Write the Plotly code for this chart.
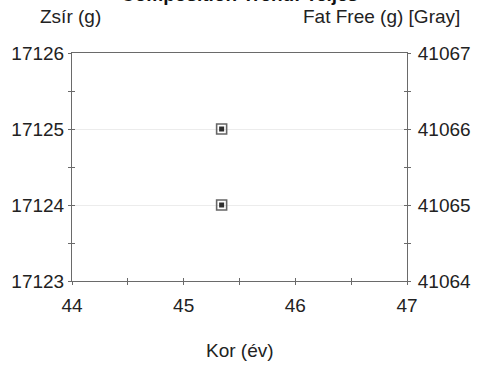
import plotly.graph_objects as go

# Data
age_years = [45.34, 45.34]
fat_g = [17125, 17124]
fat_free_g = [41066, 41065]

x_ticks = [44, 45, 46, 47]
left_ticks = [17123, 17124, 17125, 17126]
right_ticks = [41064, 41065, 41066, 41067]

FONT = "Liberation Sans, Arial, sans-serif"
AX = "#6a6a6a"
FS = 19

fig = go.Figure()
fig.add_trace(go.Scatter(x=age_years, y=fat_free_g, mode="markers", yaxis="y2",
                         marker=dict(symbol="square-open", size=10, color="#666666",
                                     line=dict(width=1.6, color="#666666")),
                         showlegend=False, hoverinfo="skip"))
fig.add_trace(go.Scatter(x=age_years, y=fat_g, mode="markers",
                         marker=dict(symbol="square", size=5, color="#2e2e2e"),
                         showlegend=False))
# helper traces for inside tick overlays
fig.add_trace(go.Scatter(x=[], y=[], xaxis="x2", yaxis="y3", showlegend=False))
fig.add_trace(go.Scatter(x=[], y=[], xaxis="x2", yaxis="y4", showlegend=False))

common_tick = dict(tickfont=dict(family=FONT, size=FS, color="#222"),
                   linecolor=AX, linewidth=1, tickcolor=AX, ticklen=3, tickwidth=1,
                   zeroline=False, automargin=False)

fig.update_layout(
    width=478, height=365,
    margin=dict(l=72, r=71, t=53, b=84),
    paper_bgcolor="white", plot_bgcolor="white",
    font=dict(family=FONT, size=FS, color="#222"),
    xaxis=dict(range=[44, 47], tickvals=x_ticks, ticks="outside", showline=True,
               mirror=True, showgrid=False,
               minor=dict(dtick=0.5, ticks="outside", ticklen=3, tickcolor=AX),
               ticklabelstandoff=4, **common_tick),
    xaxis2=dict(range=[44, 47], overlaying="x", side="bottom", ticks="inside",
                tickvals=[44, 44.5, 45, 45.5, 46, 46.5, 47], showticklabels=False,
                showline=False, showgrid=False, ticklen=3, tickcolor=AX, zeroline=False,
                automargin=False),
    yaxis=dict(range=[17123, 17126], tickvals=left_ticks, ticks="outside", showline=True,
               showgrid=True, gridcolor="#ececec", gridwidth=1,
               minor=dict(dtick=0.5, ticks="outside", ticklen=3, tickcolor=AX, showgrid=False),
               tickformat="d", **common_tick),
    yaxis2=dict(range=[41064, 41067], tickvals=right_ticks, ticks="outside", overlaying="y",
                side="right", showline=True, showgrid=False,
                minor=dict(dtick=0.5, ticks="outside", ticklen=3, tickcolor=AX),
                tickformat="d", ticklabelstandoff=3, **common_tick),
    yaxis3=dict(range=[17123, 17126], overlaying="y", side="left", ticks="inside",
                tickvals=[17123, 17123.5, 17124, 17124.5, 17125, 17125.5, 17126],
                showticklabels=False, showline=False, showgrid=False, ticklen=3,
                tickcolor=AX, zeroline=False, automargin=False),
    yaxis4=dict(range=[41064, 41067], overlaying="y", side="right", ticks="inside",
                tickvals=[41064, 41064.5, 41065, 41065.5, 41066, 41066.5, 41067],
                showticklabels=False, showline=False, showgrid=False, ticklen=3,
                tickcolor=AX, zeroline=False, automargin=False),
    annotations=[
        dict(text="<b>Composition Trend: Teljes</b>", xref="paper", yref="paper",
             x=0.5, y=1.2, xanchor="center", yanchor="bottom", showarrow=False,
             font=dict(family=FONT, size=19, color="#111")),
        dict(text="Zsír (g)", xref="paper", yref="paper", x=-0.003, y=1.16,
             xanchor="center", yanchor="middle", showarrow=False,
             font=dict(family=FONT, size=FS, color="#222")),
        dict(text="Fat Free (g) [Gray]", xref="paper", yref="paper", x=1.165, y=1.16,
             xanchor="right", yanchor="middle", showarrow=False,
             font=dict(family=FONT, size=FS, color="#222")),
        dict(text="Kor (év)", xref="paper", yref="paper", x=0.5, y=-0.305,
             xanchor="center", yanchor="middle", showarrow=False,
             font=dict(family=FONT, size=FS, color="#222")),
    ],
)

fig.write_html("out.html", config={"displayModeBar": False},
               post_script="document.body.style.margin='0';document.body.style.overflow='hidden';")
